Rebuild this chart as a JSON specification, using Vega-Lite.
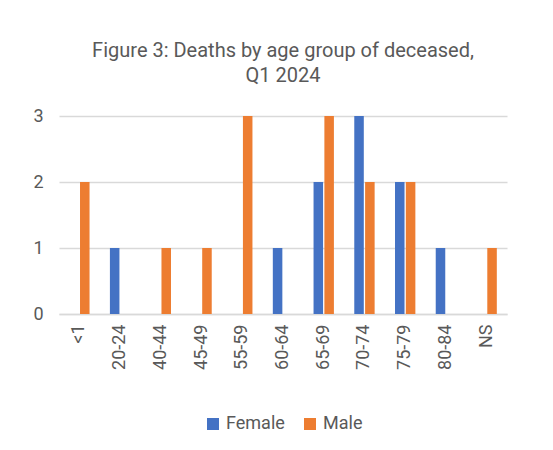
{
  "$schema": "https://vega.github.io/schema/vega-lite/v6.json",
  "width": 448,
  "height": 198,
  "autosize": {"type": "none"},
  "padding": {"left": 59, "top": 116, "right": 46, "bottom": 136},
  "background": "white",
  "title": {
    "text": ["Figure 3: Deaths by age group of deceased,", "Q1 2024"],
    "font": "Roboto",
    "fontSize": 20,
    "fontWeight": "normal",
    "color": "#595959",
    "anchor": "middle",
    "offset": 21,
    "lineHeight": 25
  },
  "data": {
    "values": [
      {"age": "<1", "sex": "Female", "deaths": 0},
      {"age": "<1", "sex": "Male", "deaths": 2},
      {"age": "20-24", "sex": "Female", "deaths": 1},
      {"age": "20-24", "sex": "Male", "deaths": 0},
      {"age": "40-44", "sex": "Female", "deaths": 0},
      {"age": "40-44", "sex": "Male", "deaths": 1},
      {"age": "45-49", "sex": "Female", "deaths": 0},
      {"age": "45-49", "sex": "Male", "deaths": 1},
      {"age": "55-59", "sex": "Female", "deaths": 0},
      {"age": "55-59", "sex": "Male", "deaths": 3},
      {"age": "60-64", "sex": "Female", "deaths": 1},
      {"age": "60-64", "sex": "Male", "deaths": 0},
      {"age": "65-69", "sex": "Female", "deaths": 2},
      {"age": "65-69", "sex": "Male", "deaths": 3},
      {"age": "70-74", "sex": "Female", "deaths": 3},
      {"age": "70-74", "sex": "Male", "deaths": 2},
      {"age": "75-79", "sex": "Female", "deaths": 2},
      {"age": "75-79", "sex": "Male", "deaths": 2},
      {"age": "80-84", "sex": "Female", "deaths": 1},
      {"age": "80-84", "sex": "Male", "deaths": 0},
      {"age": "NS", "sex": "Female", "deaths": 0},
      {"age": "NS", "sex": "Male", "deaths": 1}
    ]
  },
  "mark": {"type": "bar"},
  "encoding": {
    "x": {
      "field": "age",
      "type": "nominal",
      "sort": null,
      "scale": {"paddingInner": 0.5, "paddingOuter": 0.25},
      "axis": {
        "title": null,
        "labelAngle": -90,
        "labelFont": "Roboto",
        "labelFontSize": 18,
        "labelColor": "#595959",
        "labelPadding": 10,
        "ticks": false,
        "domainColor": "#d9d9d9",
        "domainWidth": 1.5,
        "grid": false
      }
    },
    "xOffset": {"field": "sex", "type": "nominal", "scale": {"paddingInner": 0.12}},
    "y": {
      "field": "deaths",
      "type": "quantitative",
      "scale": {"domain": [0, 3]},
      "axis": {
        "title": null,
        "values": [0, 1, 2, 3],
        "format": "d",
        "labelFont": "Roboto",
        "labelFontSize": 18,
        "labelColor": "#595959",
        "labelPadding": 16,
        "ticks": false,
        "domain": false,
        "gridColor": "#d9d9d9",
        "gridWidth": 1.5
      }
    },
    "color": {
      "field": "sex",
      "type": "nominal",
      "scale": {"domain": ["Female", "Male"], "range": ["#4472C4", "#ED7D31"]},
      "legend": {
        "title": null,
        "orient": "bottom",
        "direction": "horizontal",
        "symbolType": "square",
        "symbolSize": 144,
        "symbolStrokeWidth": 0,
        "labelFont": "Roboto",
        "labelFontSize": 18,
        "labelColor": "#595959",
        "offset": 45,
        "columnPadding": 16
      }
    }
  },
  "config": {
    "view": {"stroke": null},
    "legend": {"layout": {"bottom": {"anchor": "middle"}}}
  }
}
